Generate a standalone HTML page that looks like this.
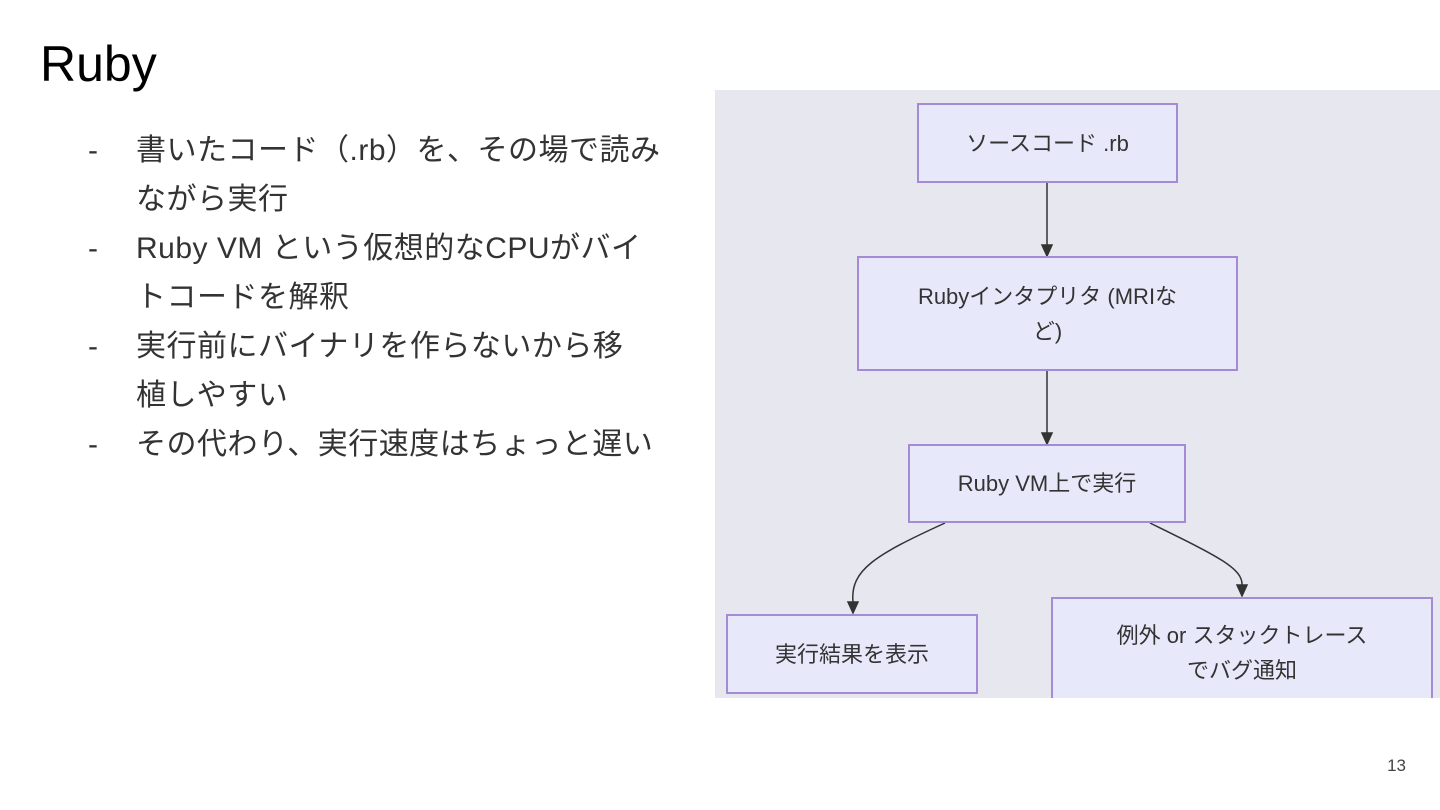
<!DOCTYPE html>
<html><head><meta charset="utf-8"><style>
body{margin:0;width:1440px;height:810px;background:#fff;position:relative;overflow:hidden;font-family:"Liberation Sans","Noto Sans CJK JP",sans-serif;color:#222}
.t{position:absolute;left:40px;top:35px;font-size:50px;color:#000}
.l{position:absolute;left:88px;top:126px;font-size:30px;line-height:49px;color:#333;letter-spacing:0.5px}
.l div{position:relative;padding-left:48px}
.l div span{position:absolute;left:0}
.d{position:absolute;left:715px;top:90px;width:725px;height:608px;background:#e6e7ef;overflow:hidden}
.b{position:absolute;background:#e8e8fb;border:2px solid #a58bd6;box-sizing:border-box;display:flex;align-items:center;justify-content:center;text-align:center;font-size:22px;color:#333;line-height:35px}
.n{position:absolute;right:34px;top:756px;font-size:17px;color:#444}
</style></head><body>
<div class="t">Ruby</div>
<div class="l">
<div><span>-</span>書いたコード（.rb）を、その場で読み<br>ながら実行</div>
<div><span>-</span>Ruby VM という仮想的なCPUがバイ<br>トコードを解釈</div>
<div><span>-</span>実行前にバイナリを作らないから移<br>植しやすい</div>
<div><span>-</span>その代わり、実行速度はちょっと遅い</div>
</div>
<div class="d">
<svg width="725" height="608" style="position:absolute;left:0;top:0">
<g stroke="#333" stroke-width="1.5" fill="none">
<line x1="332" y1="93" x2="332" y2="155"/><path d="M327,155 L337,155 L332,166z" fill="#333"/>
<line x1="332" y1="281" x2="332" y2="343"/><path d="M327,343 L337,343 L332,354z" fill="#333"/>
<path d="M230,433 C160,465 135,480 138,512"/><path d="M133,512 L143,512 L138,523z" fill="#333"/>
<path d="M435,433 C500,465 528,478 527,495"/><path d="M522,495 L532,495 L527,506z" fill="#333"/>
</g></svg>
<div class="b" style="left:202px;top:13px;width:261px;height:80px">ソースコード .rb</div>
<div class="b" style="left:142px;top:166px;width:381px;height:115px">Rubyインタプリタ (MRIな<br>ど)</div>
<div class="b" style="left:193px;top:354px;width:278px;height:79px">Ruby VM上で実行</div>
<div class="b" style="left:11px;top:524px;width:252px;height:80px">実行結果を表示</div>
<div class="b" style="left:336px;top:507px;width:382px;height:110px;align-items:flex-start;padding-top:19px">例外 or スタックトレース<br>でバグ通知</div>
</div>
<div class="n">13</div>
</body></html>
